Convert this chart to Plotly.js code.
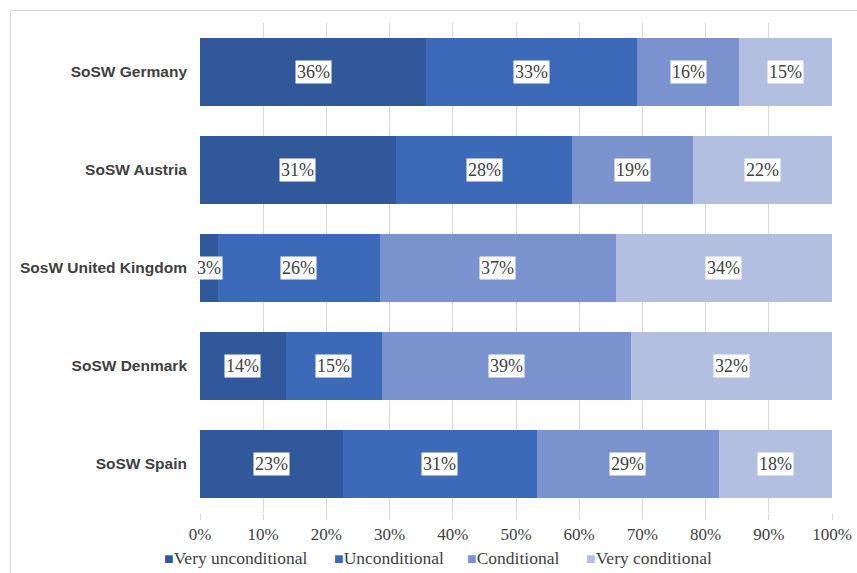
<!DOCTYPE html>
<html><head><meta charset="utf-8">
<script src="https://cdn.plot.ly/plotly-3.0.1.min.js"></script>
<style>
html,body{margin:0;padding:0;background:#fff;}
#frame{position:absolute;left:10px;top:10px;width:860px;height:580px;border:1px solid #d9d9d9;box-sizing:border-box;}
#chart{position:absolute;left:0;top:0;width:857px;height:573px;}
</style></head>
<body>
<div id="frame"></div>
<div id="chart"></div>
<script>
const categories = ["SoSW Germany","SoSW Austria","SosW United Kingdom","SoSW Denmark","SoSW Spain"];
const seriesNames = ["Very unconditional","Unconditional","Conditional","Very conditional"];
const veryUnconditional = [35.8, 31.0, 2.8, 13.6, 22.6];
const unconditional     = [33.4, 27.9, 25.7, 15.2, 30.7];
const conditional       = [16.1, 19.1, 37.3, 39.4, 28.8];
const veryConditional   = [14.7, 22.0, 34.2, 31.8, 17.9];
const colors = ["#30589A","#3D6AB8","#7A93CF","#B3BFE0"];
const xTicks = [0,10,20,30,40,50,60,70,80,90,100];
const xTickLabels = xTicks.map(v => v + "%");

const serif = "Liberation Serif, Times New Roman, serif";
const series = [veryUnconditional, unconditional, conditional, veryConditional];
const traces = series.map((vals, i) => ({
  type: "bar", orientation: "h", name: seriesNames[i],
  x: vals, y: categories, width: 0.7,
  marker: {color: colors[i], line: {width: 0}},
  hoverinfo: "skip", showlegend: false
}));

const annotations = [];
categories.forEach((c, ci) => {
  let cum = 0;
  series.forEach((vals, si) => {
    const v = vals[ci];
    annotations.push({
      x: cum + v / 2, y: c, xref: "x", yref: "y",
      text: Math.round(v) + "%", showarrow: false,
      bgcolor: "#ffffff", borderpad: 1,
      font: {family: serif, size: 18, color: "#404040"}
    });
    cum += v;
  });
});

// legend drawn as text items (square glyph + name), page x positions of each item
const legendPx = [162, 332, 465, 584];
seriesNames.forEach((name, i) => {
  annotations.push({
    xref: "paper", yref: "paper",
    x: (legendPx[i] - 200) / 632, xanchor: "left",
    y: -0.092, yanchor: "middle", showarrow: false,
    text: '<span style="color:' + colors[i] + ';font-size:16px;font-family:Liberation Sans">■</span>' + name,
    font: {family: serif, size: 17.5, color: "#404040"}
  });
});

const layout = {
  width: 857, height: 573,
  margin: {l: 200, r: 25, t: 23, b: 60, autoexpand: false},
  paper_bgcolor: "rgba(0,0,0,0)", plot_bgcolor: "rgba(0,0,0,0)",
  barmode: "stack", bargap: 0.3,
  xaxis: {
    range: [0, 100], tickvals: xTicks, ticktext: xTickLabels,
    showgrid: true, gridcolor: "#d9d9d9", gridwidth: 1,
    zeroline: false, showline: false,
    ticks: "outside", ticklen: 6, tickcolor: "#d9d9d9",
    tickfont: {family: serif, size: 17, color: "#404040"},
    fixedrange: true, automargin: false
  },
  yaxis: {
    autorange: "reversed", showgrid: false, zeroline: false, showline: false,
    ticks: "", ticklabelstandoff: 12,
    tickfont: {family: "Liberation Sans, Arial, sans-serif", size: 15.5, color: "#404040", weight: "bold"},
    fixedrange: true, automargin: false
  },
  showlegend: false,
  annotations: annotations
};
Plotly.newPlot("chart", traces, layout, {displayModeBar: false, staticPlot: true});
</script>
</body></html>
